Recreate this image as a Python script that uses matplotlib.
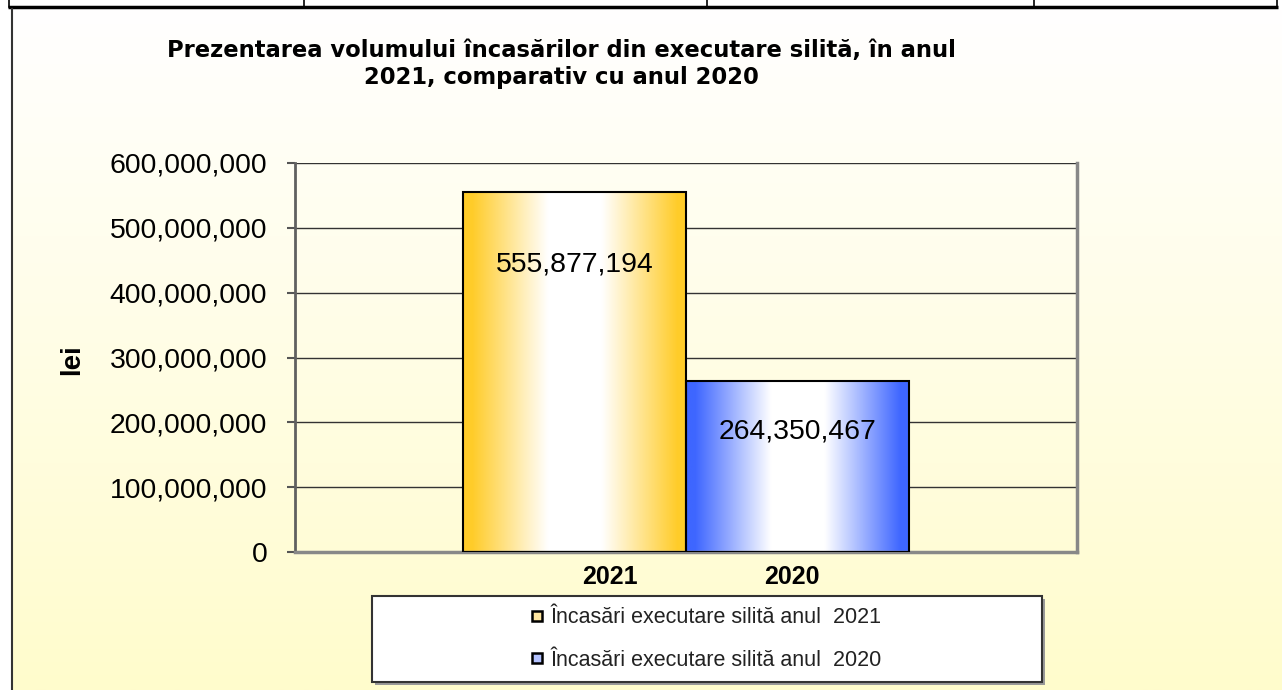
import numpy as np
import matplotlib
matplotlib.use("Agg")
import matplotlib.pyplot as plt
from matplotlib.lines import Line2D
from matplotlib.patches import Rectangle

plt.rcParams['font.family'] = ['Liberation Sans', 'DejaVu Sans']

# data
years = ['2021', '2020']
values = [555877194, 264350467]
legend_labels = ['Încasări executare silită anul  2021',
                 'Încasări executare silită anul  2020']
title = 'Prezentarea volumului încasărilor din executare silită, în anul\n2021, comparativ cu anul 2020'
y_label = 'lei'
y_ticks = [0, 100000000, 200000000, 300000000, 400000000, 500000000, 600000000]

W, H = 1282, 690
fig = plt.figure(figsize=(W / 100, H / 100), dpi=100)
fig.patch.set_facecolor('white')


def fx(px):
    return px / W


def fy(py):
    return 1 - py / H


# chart area background: white at top -> pale yellow at bottom
bg = fig.add_axes([fx(12), 0, 1 - fx(12), fy(9)], zorder=-10)
top_c = np.array([255, 255, 255]) / 255
bot_c = np.array([255, 252, 204]) / 255
t = np.linspace(0, 1, 256)[:, None, None]
grad = top_c * (1 - t) + bot_c * t
bg.imshow(grad, aspect='auto', extent=[0, 1, 0, 1])
bg.set_axis_off()

# table remains at the top + left border of the chart area
deco = fig.add_axes([0, 0, 1, 1], zorder=-5)
deco.set_xlim(0, W)
deco.set_ylim(H, 0)
deco.set_axis_off()
deco.patch.set_alpha(0)
deco.plot([8, 1278], [7, 7], color='black', lw=2.5, solid_capstyle='butt')
for xv in [9, 304, 707, 1034, 1277]:
    deco.plot([xv, xv], [0, 7], color='black', lw=1.2)
deco.plot([12, 12], [9, H], color='#333333', lw=1.5)

# main plot
ax = fig.add_axes([fx(295), fy(552), fx(1077) - fx(295), fy(163) - fy(552)])
ax.patch.set_alpha(0)

ax.set_yticks(y_ticks)
ax.set_yticklabels([f'{v:,}' for v in y_ticks], fontsize=20.4)
ax.grid(axis='y', color='#333333', lw=1.0, zorder=0)
ax.set_axisbelow(True)

bar_cols = [np.array([255, 204, 41]) / 255, np.array([62, 102, 255]) / 255]
xs = np.arange(len(values))
bars = ax.bar(xs, values, width=1.0, align='edge', facecolor='none',
              edgecolor='black', lw=1.5, zorder=3)

# horizontal colour -> white -> colour fill of each bar
u = np.linspace(0, 1, 300)
d = np.minimum(u, 1 - u)
w = np.clip((0.38 - d) / 0.34, 0, 1)
for b, c in zip(bars, bar_cols):
    row = c[None, :] * w[:, None] + (1 - w[:, None])
    im = ax.imshow(row[None, :, :], aspect='auto', zorder=2,
                   extent=[b.get_x(), b.get_x() + b.get_width(), 0, b.get_height()])
    im.set_clip_path(b)

ax.set_xlim(-0.753, 2.753)
ax.set_ylim(0, 600000000)

# value labels inside the bars
label_offsets = [-73, -51]
for b, v, off in zip(bars, values, label_offsets):
    ax.annotate(f'{v:,}', (b.get_x() + b.get_width() / 2, v),
                xytext=(0, off), textcoords='offset pixels',
                ha='center', va='center', fontsize=20.4, zorder=5)

ax.set_xticks([0.66, 1.475])
ax.set_xticklabels(years, fontsize=18, fontweight='bold')
ax.tick_params(axis='x', length=0, pad=9)
ax.tick_params(axis='y', length=6, width=1.5, color='#555555', pad=14)

ax.spines['top'].set_visible(False)
ax.spines['left'].set_color('#606060')
ax.spines['left'].set_linewidth(2)
ax.spines['right'].set_color('#888888')
ax.spines['right'].set_linewidth(2.5)
ax.spines['bottom'].set_color('#888888')
ax.spines['bottom'].set_linewidth(2.5)

# titles
fig.text(fx(561), fy(64), title, ha='center', va='center', fontsize=16.3,
         fontweight='bold', linespacing=1.25, family=['DejaVu Sans'])
fig.text(fx(72), fy(360), y_label, rotation=90, ha='center', va='center',
         fontsize=20, fontweight='bold')

# legend box with shadow
deco.add_patch(Rectangle((375, 599), 670, 86, facecolor='#999999', edgecolor='none', zorder=1))
deco.add_patch(Rectangle((372, 596), 670, 86, facecolor='white', edgecolor='#333333', lw=1.5, zorder=2))

swatch_cols = ['#FFE6A0', '#B4C2FF']
handles = [Line2D([], [], ls='none', marker='s', markersize=7, markeredgewidth=1.8,
                  markeredgecolor='black', markerfacecolor=c) for c in swatch_cols]
fig.legend(handles, legend_labels, loc='center', bbox_to_anchor=(fx(706), fy(639)),
           frameon=False, fontsize=15.5, handlelength=0.6, handletextpad=0.35,
           labelspacing=1.0, labelcolor='#222222')

fig.savefig('out.png', dpi=100)
